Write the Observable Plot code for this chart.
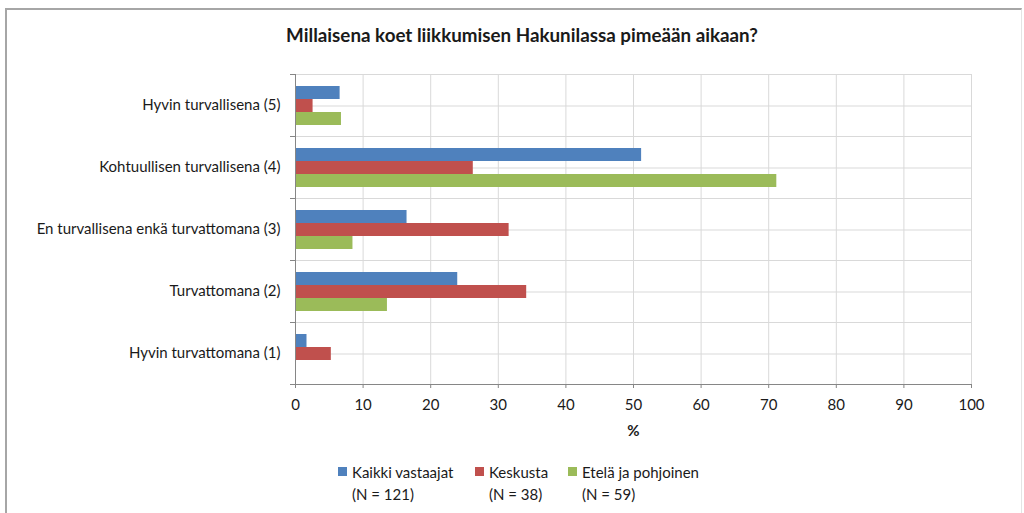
<!DOCTYPE html>
<html>
<head>
<meta charset="utf-8">
<script src="https://cdn.jsdelivr.net/npm/d3@7"></script>
<script src="https://cdn.jsdelivr.net/npm/@observablehq/plot@0.6"></script>
<style>
  html, body { margin: 0; padding: 0; background: #fff; }
  #wrap { position: relative; width: 1024px; height: 513px; overflow: hidden; font-family: Lato, "Open Sans", sans-serif; color: #1a1a1a; }
  #border { position: absolute; left: 5px; top: 8px; width: 1014px; height: 520px; border-left: 2px solid #a6a6a6; border-top: 2px solid #a6a6a6; border-right: 1px solid #e4e4e4; }
  #title { position: absolute; left: 0; width: 1044px; top: 23px; text-align: center; font-weight: bold; font-size: 18.8px; }
  #chart { position: absolute; left: 0; top: 0; }
  #legend .item { position: absolute; top: 461px; font-size: 15px; line-height: 22px; }
  #legend .sw { position: absolute; left: 0; top: 6px; width: 9px; height: 9px; }
  #legend .txt { margin-left: 14px; }
  g[aria-label="x-axis label"] text { font-weight: bold; }
</style>
</head>
<body>
<div id="wrap">
  <div id="border"></div>
  <div id="chart"></div>
  <div id="title">Millaisena koet liikkumisen Hakunilassa pimeään aikaan?</div>
  <div id="legend"></div>
</div>
<script>
const categories = [
  "Hyvin turvallisena (5)",
  "Kohtuullisen turvallisena (4)",
  "En turvallisena enkä turvattomana (3)",
  "Turvattomana (2)",
  "Hyvin turvattomana (1)"
];
const series = ["Kaikki vastaajat", "Keskusta", "Etelä ja pohjoinen"];
const seriesN = ["(N = 121)", "(N = 38)", "(N = 59)"];
const kaikkiVastaajat = [6.6, 51.2, 16.5, 24.0, 1.7];
const keskusta = [2.6, 26.3, 31.6, 34.2, 5.3];
const etelaJaPohjoinen = [6.8, 71.2, 8.5, 13.6, 0];
const colors = ["#4F81BD", "#C0504D", "#9BBB59"];
const xTicks = [0, 10, 20, 30, 40, 50, 60, 70, 80, 90, 100];
const xLabel = "%";

const valuesBySeries = [kaikkiVastaajat, keskusta, etelaJaPohjoinen];
const data = [];
categories.forEach((c, i) => {
  series.forEach((s, j) => {
    data.push({category: c, series: s, value: valuesBySeries[j][i]});
  });
});

const W = 1024, ML = 295, MR = 53;
const plotWidth = W - ML - MR;

const chart = Plot.plot({
  width: W,
  height: 445,
  marginLeft: ML,
  marginRight: MR,
  marginTop: 73,
  marginBottom: 61,
  style: {fontFamily: "Lato, 'Open Sans', sans-serif", fontSize: "15px", color: "#1a1a1a", background: "transparent"},
  x: {domain: [0, 100]},
  y: {domain: series, paddingInner: 0, paddingOuter: 0.75, axis: null},
  fy: {domain: categories, padding: 0},
  color: {domain: series, range: colors},
  marks: [
    Plot.gridX(xTicks, {stroke: "#d9d9d9", strokeOpacity: 1}),
    Plot.frame({stroke: "#d9d9d9"}),
    Plot.ruleY([series[1]], {stroke: "#d9d9d9"}),
    Plot.barX(data, {x: "value", y: "series", fy: "category", fill: "series", inset: 0}),
    Plot.ruleX([0], {stroke: "#868686"}),
    Plot.frame({anchor: "top", insetLeft: -5, insetRight: plotWidth, stroke: "#868686"}),
    Plot.frame({anchor: "bottom", facetAnchor: "bottom", stroke: "#868686"}),
    Plot.frame({anchor: "bottom", facetAnchor: "bottom", insetLeft: -5, insetRight: plotWidth, stroke: "#868686"}),
    Plot.axisFy({anchor: "left", tickSize: 0, tickPadding: 15, label: null, fontSize: 15}),
    Plot.axisX(xTicks, {anchor: "bottom", tickSize: 4, tickPadding: 11, stroke: "#868686", label: xLabel, labelArrow: "none", labelAnchor: "center", labelOffset: 51, fontSize: 15})
  ]
});
document.getElementById("chart").appendChild(chart);

const legendLefts = [338, 475, 568];
const legend = document.getElementById("legend");
series.forEach((s, j) => {
  const item = document.createElement("div");
  item.className = "item";
  item.style.left = legendLefts[j] + "px";
  item.innerHTML = `<span class="sw" style="background:${colors[j]}"></span><div class="txt">${s}<br>${seriesN[j]}</div>`;
  legend.appendChild(item);
});
</script>
</body>
</html>
